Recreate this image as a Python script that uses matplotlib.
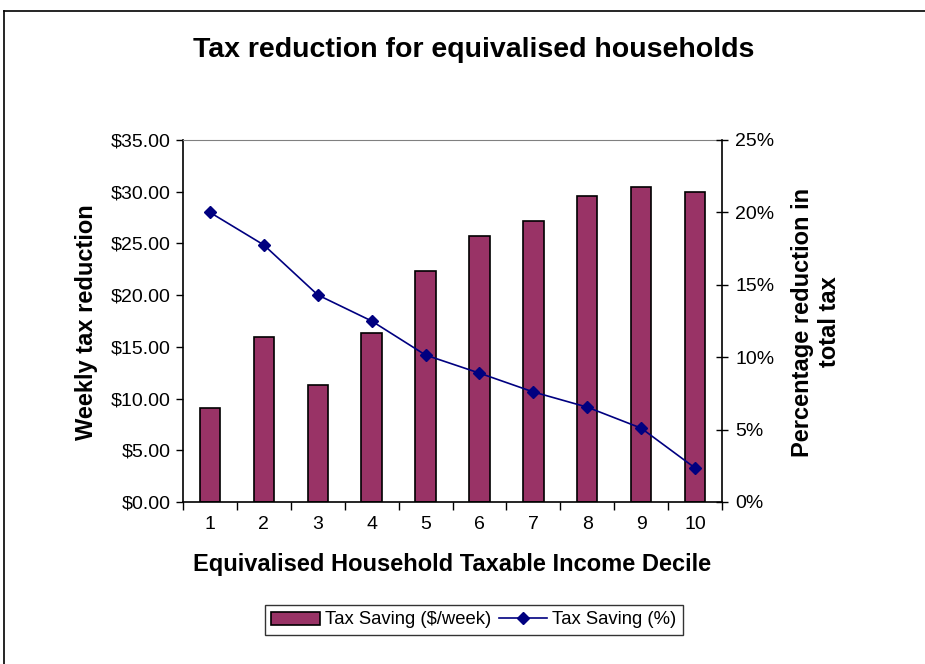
import matplotlib.pyplot as plt
from matplotlib.lines import Line2D
from matplotlib.ticker import FuncFormatter
import numpy as np

plt.rcParams['font.family'] = ['Liberation Sans', 'DejaVu Sans']

# --- dados ---
deciles = [1, 2, 3, 4, 5, 6, 7, 8, 9, 10]
saving_week = [9.05, 16.0, 11.35, 16.3, 22.3, 25.75, 27.2, 29.6, 30.5, 29.95]
saving_pct = [20.0, 17.75, 14.3, 12.5, 10.15, 8.9, 7.6, 6.55, 5.1, 2.35]

titulo = 'Tax reduction for equivalised households'
rotulo_x = 'Equivalised Household Taxable Income Decile'
rotulo_y = 'Weekly tax reduction'
rotulo_y2 = 'Percentage reduction in\ntotal tax'

fig = plt.figure(figsize=(9.25, 6.64), dpi=100)
W, H = 925, 664
# área do gráfico em pixels: x 183-722, y 140-502
ax = fig.add_axes([183 / W, 1 - 502 / H, (722 - 183) / W, (502 - 140) / H])

x = np.array(deciles)
barras = ax.bar(x, saving_week, width=0.38, color='#993366', edgecolor='black',
                linewidth=1.2, label='Tax Saving ($/week)', zorder=2)
ax.set_xlim(0.5, 10.5)
ax.set_ylim(0, 35)
ax.set_yticks(np.arange(0, 36, 5))
ax.yaxis.set_major_formatter(FuncFormatter(lambda v, p: f'${v:.2f}'))
ax.set_xticks(x)
ax.set_xticks(np.arange(0.5, 11, 1), minor=True)
ax.tick_params(axis='x', which='major', length=0, labelsize=14, pad=10)
ax.tick_params(axis='x', which='minor', length=6, direction='out', width=1)
ax.tick_params(axis='y', length=5, direction='out', labelsize=14, width=1, pad=4)

for lado in ['left', 'bottom']:
    ax.spines[lado].set_linewidth(1.2)
ax.spines['top'].set_color('#808080')
ax.spines['right'].set_visible(False)

ax2 = ax.twinx()
ax2.set_position(ax.get_position())
linha, = ax2.plot(x, saving_pct, color='#000080', marker='D', markersize=6.5,
                  linewidth=1.2, label='Tax Saving (%)', zorder=3)
ax2.set_ylim(0, 25)
ax2.set_yticks(np.arange(0, 26, 5))
ax2.yaxis.set_major_formatter(FuncFormatter(lambda v, p: f'{v:.0f}%'))
ax2.tick_params(axis='y', length=9, direction='inout', labelsize=14, width=1, pad=5)
ax2.spines['right'].set_linewidth(1.2)
ax2.spines['top'].set_visible(False)
ax2.spines['left'].set_visible(False)
ax2.spines['bottom'].set_visible(False)

fig.text(474 / W, 1 - 50 / H, titulo, ha='center', va='center',
         fontsize=20.5, fontweight='bold')
fig.text(452 / W, 1 - 565 / H, rotulo_x, ha='center', va='center',
         fontsize=17, fontweight='bold')
fig.text(86 / W, 1 - 322 / H, rotulo_y, ha='center', va='center',
         rotation=90, fontsize=17, fontweight='bold')
fig.text(816 / W, 1 - 322 / H, rotulo_y2, ha='center', va='center',
         rotation=90, fontsize=17, fontweight='bold', linespacing=1.25)

leg = fig.legend(handles=[barras, linha], loc='center',
                 bbox_to_anchor=(474 / W, 1 - 620 / H), ncol=2,
                 fontsize=13.3, frameon=True, fancybox=False,
                 handlelength=2.6, handletextpad=0.3, columnspacing=0.4,
                 borderpad=0.35, edgecolor='black')
leg.get_frame().set_linewidth(1.0)

# moldura externa do gráfico (cortada na imagem)
fig.add_artist(Line2D([4 / W, 4 / W], [0, 1 - 11 / H], color='black', lw=1.2))
fig.add_artist(Line2D([4 / W, 1], [1 - 11 / H, 1 - 11 / H], color='black', lw=1.2))

fig.savefig('out.png', dpi=100)
